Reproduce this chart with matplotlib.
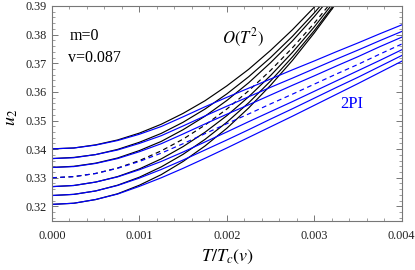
import numpy as np
import matplotlib
matplotlib.use('Agg')
import matplotlib.pyplot as plt
from matplotlib.ticker import MultipleLocator

plt.rcParams['mathtext.fontset'] = 'stix'
plt.rcParams['font.family'] = ['Liberation Serif', 'DejaVu Serif']

# temperature grids (T / Tc(v))
t_blue = [0.0, 0.00025, 0.0005, 0.00075, 0.001, 0.00125, 0.0015, 0.00175, 0.002,
          0.00225, 0.0025, 0.00275, 0.003, 0.00325, 0.0035, 0.00375, 0.004]
t_black = t_blue[:14]

# 2PI curves (blue), top to bottom; index 3 is the dashed one
u2_2pi = [
    [.3401, .3404, .3414, .3430, .3452, .3479, .3513, .3548, .3581, .3613, .3645, .3677, .3708, .3740, .3771, .3803, .3834],
    [.3367, .3370, .3381, .3397, .3420, .3447, .3481, .3516, .3550, .3583, .3616, .3648, .3681, .3714, .3746, .3779, .3811],
    [.3336, .3339, .3350, .3367, .3391, .3419, .3453, .3488, .3522, .3555, .3589, .3623, .3656, .3690, .3723, .3758, .3791],
    [.3300, .3304, .3315, .3333, .3357, .3386, .3419, .3454, .3489, .3523, .3558, .3592, .3627, .3662, .3696, .3732, .3767],
    [.3269, .3273, .3285, .3303, .3328, .3357, .3390, .3425, .3460, .3496, .3531, .3566, .3602, .3638, .3674, .3710, .3747],
    [.3238, .3242, .3254, .3273, .3299, .3329, .3362, .3397, .3432, .3468, .3505, .3541, .3578, .3615, .3651, .3689, .3727],
    [.3207, .3211, .3224, .3243, .3270, .3300, .3333, .3368, .3404, .3441, .3478, .3515, .3553, .3591, .3629, .3668, .3707],
]

# O(T^2) curves (black), top to bottom
u2_ot2 = [
    [.3401, .3404, .3415, .3432, .3456, .3487, .3525, .3569, .3621, .3679, .3745, .3817, .3896, .3982],
    [.3367, .3371, .3381, .3399, .3424, .3455, .3494, .3540, .3593, .3653, .3720, .3794, .3876, .3964],
    [.3336, .3340, .3351, .3369, .3395, .3427, .3468, .3515, .3570, .3632, .3702, .3778, .3863, .3954],
    [.3300, .3304, .3315, .3334, .3360, .3394, .3435, .3484, .3540, .3604, .3675, .3754, .3840, .3934],
    [.3269, .3273, .3285, .3304, .3331, .3366, .3409, .3459, .3517, .3583, .3657, .3738, .3827, .3924],
    [.3238, .3242, .3254, .3274, .3302, .3338, .3382, .3434, .3494, .3562, .3638, .3722, .3814, .3914],
    [.3207, .3211, .3224, .3244, .3274, .3311, .3357, .3411, .3473, .3544, .3623, .3710, .3806, .3909],
]
dashed_idx = 3

fig = plt.figure(figsize=(4.15, 2.7), dpi=100)
ax = fig.add_axes([0.1253, 0.1826, 0.8427, 0.7952])

for i, u in enumerate(u2_ot2):
    ls = (0, (4, 3)) if i == dashed_idx else '-'
    ax.plot(t_black, u, color='black', lw=0.85, linestyle=ls)
for i, u in enumerate(u2_2pi):
    ls = (0, (4, 3)) if i == dashed_idx else '-'
    ax.plot(t_blue, u, color='blue', lw=0.85, linestyle=ls)

ax.set_xlim(0, 0.004)
ax.set_ylim(0.315, 0.39)
ax.xaxis.set_major_locator(MultipleLocator(0.001))
ax.xaxis.set_minor_locator(MultipleLocator(0.0002))
ax.yaxis.set_major_locator(MultipleLocator(0.01))
ax.yaxis.set_minor_locator(MultipleLocator(0.002))
ax.xaxis.set_major_formatter(plt.FuncFormatter(lambda v, p: '%.3f' % v))
ax.yaxis.set_major_formatter(plt.FuncFormatter(lambda v, p: '%.2f' % v))

frame = '#777777'
for s in ax.spines.values():
    s.set_color(frame)
    s.set_linewidth(0.8)
ax.tick_params(which='both', direction='in', top=True, right=True, color=frame,
               labelsize=8.8, labelcolor='#222222')
ax.tick_params(which='major', length=4, width=0.7)
ax.tick_params(which='minor', length=2, width=0.5)
ax.tick_params(axis='x', pad=7)
ax.tick_params(axis='y', pad=4)

ax.text(0.0002, 0.3795, 'm=0', fontsize=11.5, ha='left', va='center')
ax.text(0.00018, 0.3719, 'v=0.087', fontsize=11.5, ha='left', va='center')
ax.text(0.00219, 0.3790, r'$O(T^2)$', fontsize=12, ha='center', va='center')
ax.text(0.003425, 0.3558, '2PI', fontsize=12, color='blue', ha='center', va='center')

fig.text(11 / 415, 1 - 117 / 270, r'$u_2$', fontsize=13, rotation=90, ha='center', va='center')
fig.text(227 / 415, 1 - 257 / 270, r'$T/T_c(v)$', fontsize=13, ha='center', va='center')

fig.savefig('out.png', dpi=100)
